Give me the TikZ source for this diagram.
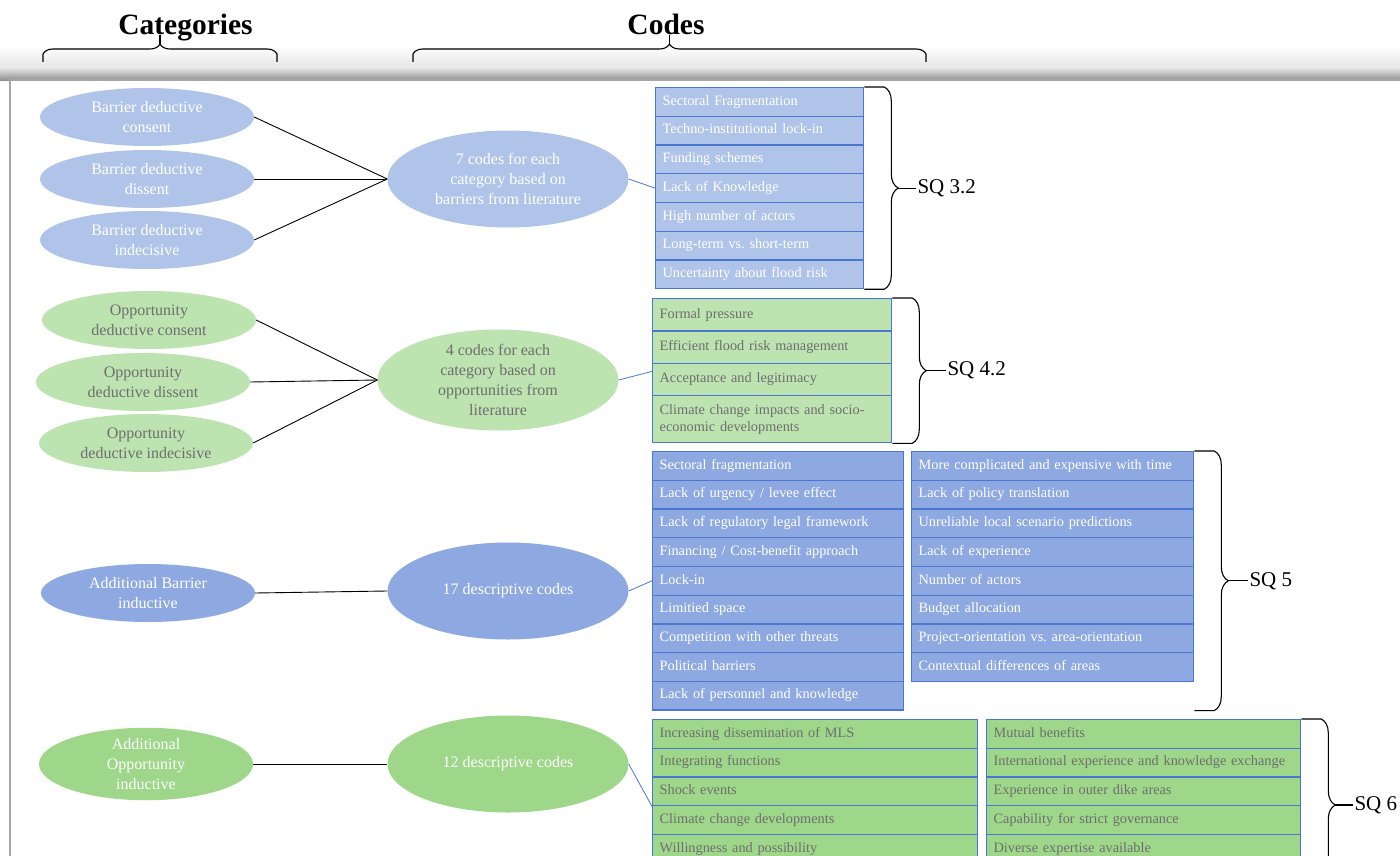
\documentclass[tikz,border=0pt]{standalone}
\usepackage{fontspec}
\setmainfont{Liberation Serif}
\usetikzlibrary{shapes.geometric,positioning,calc,decorations.pathreplacing}
\frenchspacing

\definecolor{barlight}{HTML}{B0C4EA}
\definecolor{barmid}{HTML}{8EA9E1}
\definecolor{opplight}{HTML}{BDE3B0}
\definecolor{oppmid}{HTML}{9ED78A}
\definecolor{cellline}{HTML}{4A78D0}
\definecolor{greytxt}{HTML}{6E6E6E}

\begin{document}
\begin{tikzpicture}[x=1pt,y=-1pt,
    cat/.style={ellipse, inner sep=0pt, minimum width=214pt, minimum height=58pt, align=center, font=\fontsize{16}{20}\selectfont},
    codes/.style={ellipse, inner sep=0pt, minimum width=241pt, minimum height=97pt, align=center, font=\fontsize{16}{20}\selectfont},
    cell/.style={draw=cellline, line width=1.3pt, anchor=north west, align=left, inner xsep=7pt, inner ysep=0pt, text height=10pt, text depth=3.5pt, minimum height=28.7pt, font=\fontsize{14.3}{17}\selectfont},
    link/.style={line width=0.9pt},
    bluelink/.style={cellline, line width=0.8pt},
    bracel/.style={line width=1.1pt},
    hdr/.style={anchor=base, inner sep=0pt, font=\bfseries\fontsize{29.5}{32}\selectfont},
    sqlabel/.style={anchor=west, inner sep=1pt, font=\fontsize{21}{24}\selectfont},
    brace14/.style={decoration={brace, amplitude=14pt}},
    brace10/.style={decoration={brace, amplitude=10pt}},
]
\clip (0,0) rectangle (1400,856);

% page and its shadow
\shade[top color=white, bottom color=black!10] (0,45) rectangle (1400,68);
\shade[top color=black!10, bottom color=black!45] (0,68) rectangle (1400,80.5);
\fill[white] (10,80) rectangle (1400,856);
\draw[black!35, line width=1.5pt] (10,856) -- (10,80) -- (1400,80);

% headers
\node[hdr] (cathdr) at (185.5,35) {Categories};
\node[hdr] (codhdr) at (666,35) {Codes};
\draw[bracel] (43,62) -- (43,54) decorate[brace10] {(43,54) -- (277,54)} -- (277,62);
\draw[bracel] (160,44) -- ++(0,-9);
\draw[bracel] (413,62) -- (413,54) decorate[brace10] {(413,54) -- (926,54)} -- (926,62);
\draw[bracel] (669.5,44) -- ++(0,-9);

% categories
\node[cat, fill=barlight, text=white] (bdc) at (147,117) {Barrier deductive\\consent};
\node[cat, fill=barlight, text=white] (bdd) at (147,179) {Barrier deductive\\dissent};
\node[cat, fill=barlight, text=white] (bdi) at (147,240) {Barrier deductive\\indecisive};
\node[cat, fill=opplight, text=greytxt] (odc) at (149,320) {Opportunity\\deductive consent};
\node[cat, fill=opplight, text=greytxt] (odd) at (143,382) {Opportunity\\deductive dissent};
\node[cat, fill=opplight, text=greytxt] (odi) at (146,443) {Opportunity\\deductive indecisive};
\node[cat, fill=barmid, text=white] (abi) at (148,593) {Additional Barrier\\inductive};
\node[cat, fill=oppmid, text=white, minimum height=60pt] (aoi) at (146,764) {Additional\\Opportunity\\inductive};

% code groups
\node[codes, fill=barlight, text=white] (c7) at (508,179) {7 codes for each\\category based on\\barriers from literature};
\node[codes, fill=opplight, text=greytxt] (c4) at (498,380) {4 codes for each\\category based on\\opportunities from\\literature};
\node[codes, fill=barmid, text=white] (c17) at (508,591) {17 descriptive codes};
\node[codes, fill=oppmid, text=white] (c12) at (508,764) {12 descriptive codes};

\foreach \a/\b in {bdc/c7, bdd/c7, bdi/c7, odc/c4, odd/c4, odi/c4, abi/c17, aoi/c12}
  \draw[link] (\a.east) -- (\b.west);

% code tables
\foreach \t [count=\i from 0] in {Sectoral Fragmentation, Techno-institutional lock-in, Funding schemes, Lack of Knowledge, High number of actors, Long-term vs. short-term, Uncertainty about flood risk}
  \node[cell, fill=barlight, text=white, text width=194pt] (sb-\i) at (655,{87+28.7*\i}) {\t};

\foreach \t [count=\i from 0] in {Formal pressure, Efficient flood risk management, Acceptance and legitimacy}
  \node[cell, fill=opplight, text=greytxt, text width=225pt, minimum height=32.3pt] (so-\i) at (652,{298+32.3*\i}) {\t};
\node[cell, fill=opplight, text=greytxt, text width=225pt, text height=, text depth=, minimum height=47pt] (so-3) at (652,395) {Climate change impacts and socio-\\economic developments};

\foreach \t [count=\i from 0] in {Sectoral fragmentation, Lack of urgency / levee effect, Lack of regulatory legal framework, Financing / Cost-benefit approach, Lock-in, Limitied space, Competition with other threats, Political barriers, Lack of personnel and knowledge}
  \node[cell, fill=barmid, text=white, text width=237pt] (ab-\i) at (652,{451+28.7*\i}) {\t};

\foreach \t [count=\i from 0] in {More complicated and expensive with time, Lack of policy translation, Unreliable local scenario predictions, Lack of experience, Number of actors, Budget allocation, Project-orientation vs. area-orientation, Contextual differences of areas}
  \node[cell, fill=barmid, text=white, text width=268pt] (ab2-\i) at (911,{451+28.7*\i}) {\t};

\foreach \t [count=\i from 0] in {Increasing dissemination of MLS, Integrating functions, Shock events, Climate change developments, Willingness and possibility}
  \node[cell, fill=oppmid, text=greytxt, text width=311pt] (ao-\i) at (652,{719+28.7*\i}) {\t};

\foreach \t [count=\i from 0] in {Mutual benefits, International experience and knowledge exchange, Experience in outer dike areas, Capability for strict governance, Diverse expertise available}
  \node[cell, fill=oppmid, text=greytxt, text width=300pt] (ao2-\i) at (986,{719+28.7*\i}) {\t};

\draw[bluelink] (c7.east) -- (sb-3.west);
\draw[bluelink] (c4.east) -- ([yshift=8pt]so-2.west);
\draw[bluelink] (c17.east) -- (ab-4.west);
\draw[bluelink] (c12.east) -- (ao-2.south west);

% sub-question braces
\draw[bracel] (sb-0.north east) -- ++(20,0) coordinate (t1) decorate[brace14] {(t1) -- (t1 |- sb-6.south east)} -- (sb-6.south east);
\node[sqlabel] (sq32) at ($(t1)!0.5!(t1 |- sb-6.south east)+(32,0)$) {SQ 3.2};
\draw[bracel] ($(t1)!0.5!(t1 |- sb-6.south east)+(14,0)$) -- (sq32.west);

\draw[bracel] (so-0.north east) -- ++(20,0) coordinate (t2) decorate[brace14] {(t2) -- (t2 |- so-3.south east)} -- (so-3.south east);
\node[sqlabel] (sq42) at ($(t2)!0.5!(t2 |- so-3.south east)+(34,0)$) {SQ 4.2};
\draw[bracel] ($(t2)!0.5!(t2 |- so-3.south east)+(14,0)$) -- (sq42.west);

\coordinate (b5) at (ab2-0.north east |- ab-8.south);
\draw[bracel] (ab2-0.north east) -- ++(20,0) coordinate (t3) decorate[brace14] {(t3) -- (t3 |- b5)} -- (b5);
\node[sqlabel] (sq5) at ($(t3)!0.5!(t3 |- b5)+(34,0)$) {SQ 5};
\draw[bracel] ($(t3)!0.5!(t3 |- b5)+(14,0)$) -- (sq5.west);

\coordinate (b6) at ($(ao2-0.north east)+(0,172)$);
\draw[bracel] (ao2-0.north east) -- ++(20,0) coordinate (t4) decorate[brace14] {(t4) -- (t4 |- b6)} -- (b6);
\node[sqlabel] (sq6) at ($(t4)!0.5!(t4 |- b6)+(32,0)$) {SQ 6};
\draw[bracel] ($(t4)!0.5!(t4 |- b6)+(14,0)$) -- (sq6.west);
\end{tikzpicture}
\end{document}
